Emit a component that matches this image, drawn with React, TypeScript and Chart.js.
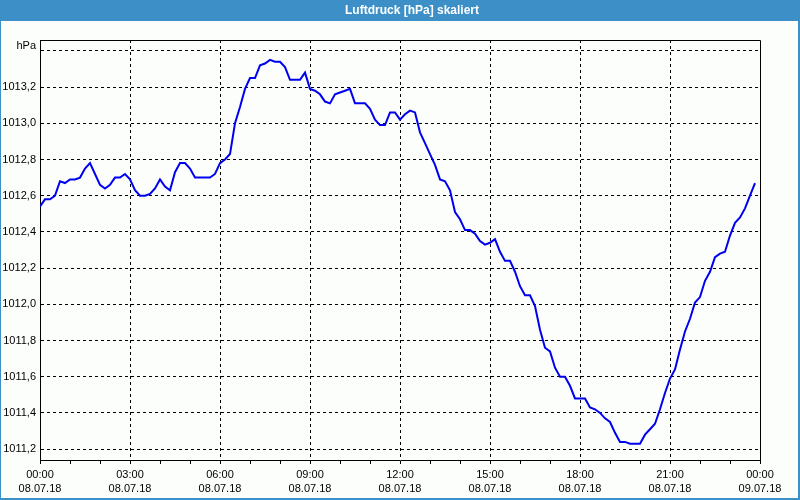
import React, { useEffect, useRef } from 'react';
import { Chart, registerables } from 'chart.js';

Chart.register(...registerables);

const TITLE = 'Luftdruck [hPa] skaliert';
const UNIT = 'hPa';
const SAMPLE_MINUTES = 10;

// Pressure readings every 10 minutes from 08.07.18 00:00
const pressure = [
  1012.54, 1012.58, 1012.58, 1012.6, 1012.68, 1012.67, 1012.69, 1012.69, 1012.7, 1012.75,
  1012.78, 1012.72, 1012.66, 1012.64, 1012.66, 1012.7, 1012.7, 1012.72, 1012.69, 1012.63,
  1012.6, 1012.6, 1012.61, 1012.64, 1012.69, 1012.65, 1012.63, 1012.73, 1012.78, 1012.78,
  1012.75, 1012.7, 1012.7, 1012.7, 1012.7, 1012.72, 1012.78, 1012.8, 1012.83, 1013.0,
  1013.09, 1013.19, 1013.25, 1013.25, 1013.32, 1013.33, 1013.35, 1013.34, 1013.34, 1013.31,
  1013.24, 1013.24, 1013.24, 1013.28, 1013.19, 1013.18, 1013.16, 1013.12, 1013.11, 1013.16,
  1013.17, 1013.18, 1013.19, 1013.11, 1013.11, 1013.11, 1013.08, 1013.02, 1012.99, 1012.99,
  1013.06, 1013.06, 1013.02, 1013.05, 1013.07, 1013.06, 1012.95, 1012.89, 1012.83, 1012.77,
  1012.69, 1012.68, 1012.63, 1012.51, 1012.47, 1012.41, 1012.41, 1012.39, 1012.35, 1012.33,
  1012.34, 1012.36, 1012.29, 1012.24, 1012.24, 1012.18, 1012.1, 1012.05, 1012.05, 1011.99,
  1011.86, 1011.76, 1011.74, 1011.65, 1011.6, 1011.6, 1011.55, 1011.48, 1011.48, 1011.48,
  1011.43, 1011.42, 1011.4, 1011.37, 1011.35, 1011.29, 1011.24, 1011.24, 1011.23, 1011.23,
  1011.23, 1011.28, 1011.31, 1011.34, 1011.42, 1011.51, 1011.59, 1011.64, 1011.75, 1011.85,
  1011.92, 1012.01, 1012.04, 1012.13, 1012.18, 1012.26, 1012.28, 1012.29, 1012.38, 1012.45,
  1012.48, 1012.53, 1012.6, 1012.67,
];

const yTickValues = [1011.2, 1011.4, 1011.6, 1011.8, 1012.0, 1012.2, 1012.4, 1012.6, 1012.8, 1013.0, 1013.2, 1013.4];
const yMin = 1011.14;
const yMax = 1013.46;

const xLabelHours = [0, 3, 6, 9, 12, 15, 18, 21, 24];
const xTimeLabels = ['00:00', '03:00', '06:00', '09:00', '12:00', '15:00', '18:00', '21:00', '00:00'];
const xDateLabels = ['08.07.18', '08.07.18', '08.07.18', '08.07.18', '08.07.18', '08.07.18', '08.07.18', '08.07.18', '09.07.18'];

const FONT = '"Liberation Sans", Arial, sans-serif';

const framePlugin = {
  id: 'frame',
  beforeDraw(chart: any) {
    const { ctx, width, height } = chart;
    ctx.save();
    ctx.fillStyle = '#3c8fc7';
    ctx.fillRect(0, 0, width, height);
    ctx.fillStyle = '#fcfefc';
    ctx.fillRect(1, 21, width - 3, height - 23);
    ctx.fillStyle = '#ffffff';
    ctx.font = `bold 12px ${FONT}`;
    ctx.textAlign = 'center';
    ctx.textBaseline = 'middle';
    ctx.fillText(TITLE, 412, 11);
    ctx.restore();
  },
  afterDraw(chart: any) {
    const { ctx, chartArea } = chart;
    ctx.save();
    ctx.strokeStyle = '#000';
    ctx.lineWidth = 1;
    ctx.beginPath();
    ctx.moveTo(Math.round(chartArea.left) + 0.5, Math.round(chartArea.top) + 0.5);
    ctx.lineTo(Math.round(chartArea.right) + 0.5, Math.round(chartArea.top) + 0.5);
    ctx.lineTo(Math.round(chartArea.right) + 0.5, Math.round(chartArea.bottom) + 0.5);
    ctx.stroke();
    ctx.fillStyle = '#000';
    ctx.font = `11px ${FONT}`;
    ctx.textAlign = 'right';
    ctx.textBaseline = 'middle';
    ctx.fillText(UNIT, chartArea.left - 4, 46);
    ctx.restore();
  },
};

export default function App() {
  const canvasRef = useRef<HTMLCanvasElement>(null);

  useEffect(() => {
    const canvas = canvasRef.current;
    if (!canvas) return;
    const points = pressure.map((v, i) => ({ x: (i * SAMPLE_MINUTES) / 60, y: v }));
    const chart = new Chart(canvas, {
      type: 'line',
      data: {
        datasets: [
          {
            data: points,
            borderColor: '#0000f0',
            borderWidth: 2,
            pointRadius: 0,
            tension: 0,
            fill: false,
          },
        ],
      },
      plugins: [framePlugin],
      options: {
        animation: false,
        responsive: false,
        devicePixelRatio: 1,
        layout: { padding: { left: 0, top: 40, right: 40, bottom: 0 } },
        plugins: {
          legend: { display: false },
          tooltip: { enabled: false },
          title: { display: false },
        },
        scales: {
          x: {
            type: 'linear',
            min: 0,
            max: 24,
            afterFit(scale: any) {
              scale.height = 40;
            },
            ticks: {
              stepSize: 1,
              autoSkip: false,
              maxRotation: 0,
              minRotation: 0,
              padding: 3,
              color: '#000',
              font: { family: FONT, size: 11, lineHeight: 1.36 },
              callback(value: any) {
                const idx = xLabelHours.indexOf(Math.round(Number(value)));
                if (idx < 0 || Math.abs(Number(value) - xLabelHours[idx]) > 1e-6) return '';
                return [xTimeLabels[idx], xDateLabels[idx]];
              },
            },
            grid: {
              color(ctx: any) {
                const v = ctx.tick ? ctx.tick.value : -1;
                if (v > 0 && v < 24 && Math.abs(v % 3) < 1e-6) return '#000';
                return 'rgba(0,0,0,0)';
              },
              lineWidth: 1,
              tickColor: '#000',
              tickLength: 4,
              drawTicks: true,
            },
            border: { display: true, color: '#000', width: 1, dash: [3, 3] },
          },
          y: {
            type: 'linear',
            min: yMin,
            max: yMax,
            afterFit(scale: any) {
              scale.width = 40;
            },
            afterBuildTicks(scale: any) {
              scale.ticks = yTickValues.map((v) => ({ value: v }));
            },
            ticks: {
              padding: 4,
              color: '#000',
              font: { family: FONT, size: 11 },
              callback(value: any) {
                const v = Number(value);
                if (Math.abs(v - 1013.4) < 1e-6) return '';
                return v.toFixed(1).replace('.', ',');
              },
            },
            grid: {
              color: '#000',
              lineWidth: 1,
              drawTicks: false,
            },
            border: { display: true, color: '#000', width: 1, dash: [3, 3] },
          },
        },
      },
    });
    return () => chart.destroy();
  }, []);

  return (
    <div style={{ position: 'absolute', left: 0, top: 0, width: 800, height: 500 }}>
      <canvas ref={canvasRef} width={800} height={500} style={{ width: 800, height: 500, display: 'block' }} />
    </div>
  );
}
